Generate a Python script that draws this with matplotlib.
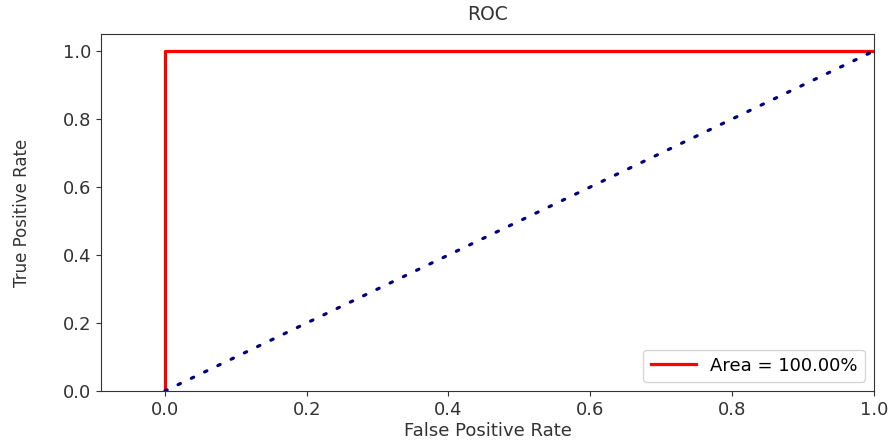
import numpy as np
import matplotlib
matplotlib.use('Agg')
import matplotlib.pyplot as plt

plt.rcParams['font.family'] = ['DejaVu Sans']

# ROC curve points
fpr = [0.0, 0.0, 1.0]
tpr = [0.0, 1.0, 1.0]
diag_x = [0.0, 1.0]
diag_y = [0.0, 1.0]
auc = 1.0

fig = plt.figure(figsize=(8.9, 4.46), dpi=100)
ax = fig.add_axes([0.1135, 0.1233, 0.8685, 0.8005])

ax.plot(fpr, tpr, color='red', linewidth=2.3, label='Area = %0.2f%%' % (auc * 100))
ax.plot(diag_x, diag_y, color='navy', linestyle=(0, (0.8, 3.8)), linewidth=2.3,
        dash_capstyle='round')

ax.set_xlim(-0.09, 1.0)
ax.set_ylim(0.0, 1.05)
ax.set_xticks([0.0, 0.2, 0.4, 0.6, 0.8, 1.0])
ax.set_yticks([0.0, 0.2, 0.4, 0.6, 0.8, 1.0])
ax.tick_params(labelsize=13, colors='#333333', labelcolor='#333333')
for s in ax.spines.values():
    s.set_color('#333333')

ax.set_title('ROC', fontsize=13.5, color='#333333', pad=10)
ax.set_xlabel('False Positive Rate', fontsize=13, color='#333333', labelpad=2)
ax.set_ylabel('True Positive Rate', fontsize=12, color='#333333')
ax.yaxis.set_label_coords(-0.09, 0.5)
ax.legend(loc='lower right', fontsize=13, handlelength=2.5)

fig.savefig('out.png', dpi=100)
